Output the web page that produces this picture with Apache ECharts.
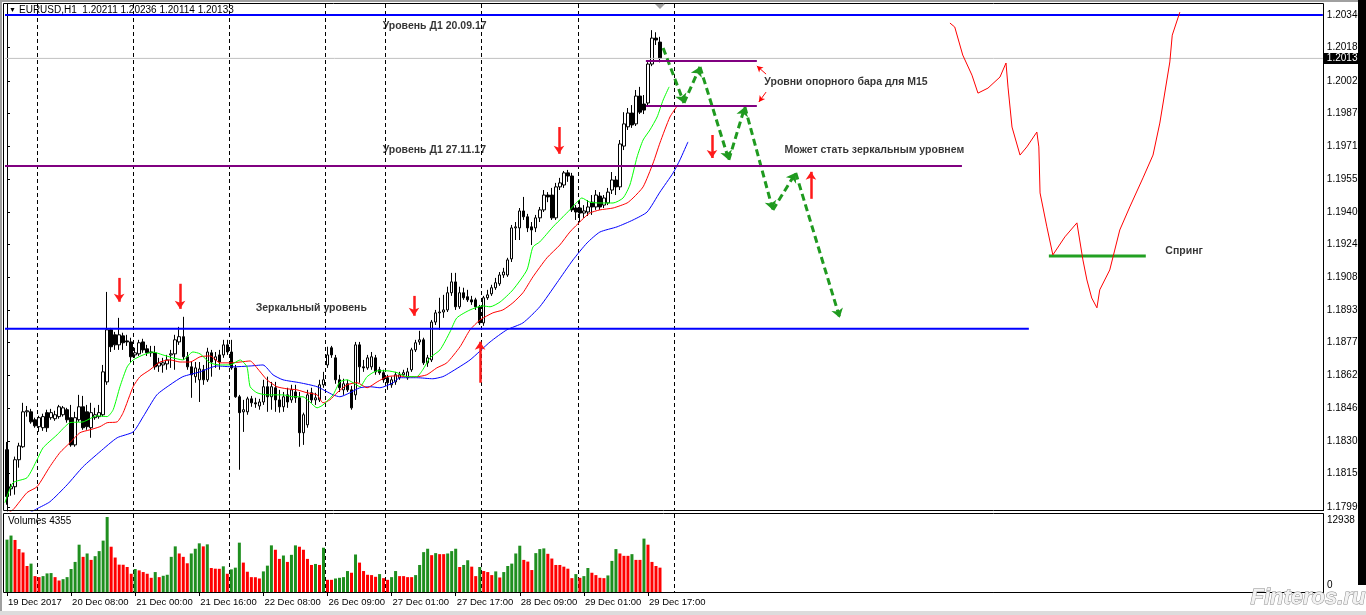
<!DOCTYPE html>
<html><head><meta charset="utf-8">
<script src="https://cdn.jsdelivr.net/npm/echarts@6/dist/echarts.min.js"></script>
<style>html,body{margin:0;padding:0;background:#fff;}#c{width:1366px;height:615px;}</style>
</head><body><div id="c"></div>
<script>
// ---------- DATA ----------
const barOpen = [1.18263,1.18076,1.18086,1.18215,1.18277,1.18444,1.18444,1.18406,1.18373,1.18368,1.18440,1.18416,1.18411,1.18421,1.18430,1.18454,1.18416,1.18286,1.18406,1.18468,1.18444,1.18368,1.18416,1.18421,1.18430,1.18587,1.18836,1.18812,1.18764,1.18807,1.18783,1.18778,1.18716,1.18721,1.18778,1.18745,1.18730,1.18726,1.18663,1.18668,1.18673,1.18716,1.18721,1.18778,1.18803,1.18707,1.18659,1.18612,1.18597,1.18645,1.18597,1.18726,1.18692,1.18716,1.18716,1.18764,1.18730,1.18654,1.18516,1.18444,1.18444,1.18506,1.18487,1.18472,1.18491,1.18564,1.18516,1.18559,1.18501,1.18468,1.18525,1.18501,1.18539,1.18511,1.18344,1.18382,1.18535,1.18501,1.18501,1.18573,1.18668,1.18750,1.18702,1.18597,1.18549,1.18578,1.18549,1.18525,1.18764,1.18659,1.18654,1.18659,1.18702,1.18645,1.18631,1.18607,1.18573,1.18587,1.18607,1.18621,1.18607,1.18645,1.18740,1.18778,1.18788,1.18678,1.18692,1.18873,1.18917,1.18921,1.18931,1.19013,1.19065,1.18946,1.19013,1.18994,1.18979,1.18979,1.18946,1.18869,1.18989,1.19008,1.19037,1.19056,1.19098,1.19098,1.19175,1.19323,1.19323,1.19404,1.19376,1.19328,1.19323,1.19371,1.19409,1.19480,1.19480,1.19371,1.19519,1.19528,1.19586,1.19571,1.19418,1.19418,1.19394,1.19399,1.19446,1.19423,1.19475,1.19432,1.19442,1.19504,1.19552,1.19519,1.19714,1.19806,1.19872,1.19820,1.19953,1.19915,1.19920,1.20106,1.20230,1.20211];
const barHigh = [1.18300,1.18100,1.18230,1.18296,1.18487,1.18472,1.18458,1.18416,1.18425,1.18435,1.18454,1.18458,1.18449,1.18477,1.18472,1.18463,1.18477,1.18444,1.18525,1.18520,1.18477,1.18487,1.18463,1.18477,1.18668,1.19017,1.18845,1.18826,1.18893,1.18822,1.18812,1.18798,1.18750,1.18788,1.18793,1.18764,1.18759,1.18759,1.18702,1.18702,1.18716,1.18740,1.18812,1.18850,1.18898,1.18730,1.18682,1.18682,1.18682,1.18668,1.18750,1.18740,1.18730,1.18740,1.18788,1.18788,1.18788,1.18668,1.18525,1.18501,1.18516,1.18520,1.18511,1.18506,1.18597,1.18612,1.18587,1.18587,1.18549,1.18539,1.18559,1.18573,1.18573,1.18539,1.18440,1.18549,1.18559,1.18535,1.18597,1.18635,1.18755,1.18759,1.18716,1.18621,1.18602,1.18597,1.18568,1.18778,1.18778,1.18692,1.18716,1.18730,1.18716,1.18659,1.18645,1.18621,1.18612,1.18635,1.18635,1.18645,1.18654,1.18750,1.18788,1.18831,1.18798,1.18716,1.18883,1.18931,1.18989,1.19003,1.19042,1.19108,1.19108,1.19042,1.19037,1.19027,1.18998,1.18989,1.18955,1.18998,1.19027,1.19051,1.19084,1.19112,1.19132,1.19180,1.19337,1.19351,1.19418,1.19471,1.19390,1.19351,1.19385,1.19423,1.19504,1.19494,1.19514,1.19538,1.19562,1.19595,1.19600,1.19586,1.19432,1.19456,1.19432,1.19456,1.19480,1.19504,1.19494,1.19480,1.19514,1.19590,1.19571,1.19743,1.19876,1.19896,1.19910,1.19982,1.19997,1.19958,1.20115,1.20268,1.20258,1.20236];
const barLow = [1.18000,1.18043,1.18048,1.18177,1.18272,1.18421,1.18387,1.18368,1.18348,1.18353,1.18348,1.18406,1.18401,1.18411,1.18421,1.18392,1.18277,1.18277,1.18396,1.18358,1.18358,1.18320,1.18406,1.18411,1.18421,1.18573,1.18730,1.18740,1.18740,1.18740,1.18759,1.18682,1.18702,1.18711,1.18726,1.18711,1.18707,1.18645,1.18635,1.18631,1.18645,1.18654,1.18645,1.18764,1.18692,1.18645,1.18511,1.18583,1.18491,1.18573,1.18587,1.18612,1.18654,1.18645,1.18702,1.18716,1.18645,1.18511,1.18167,1.18348,1.18430,1.18468,1.18463,1.18454,1.18477,1.18444,1.18454,1.18444,1.18440,1.18444,1.18463,1.18487,1.18487,1.18277,1.18286,1.18368,1.18487,1.18477,1.18491,1.18559,1.18654,1.18702,1.18578,1.18539,1.18525,1.18539,1.18454,1.18501,1.18583,1.18635,1.18645,1.18645,1.18621,1.18621,1.18583,1.18549,1.18559,1.18573,1.18597,1.18612,1.18597,1.18635,1.18730,1.18764,1.18668,1.18659,1.18682,1.18859,1.18836,1.18893,1.18921,1.18998,1.18931,1.18936,1.18979,1.18969,1.18955,1.18931,1.18859,1.18855,1.18979,1.18998,1.19027,1.19046,1.19084,1.19089,1.19160,1.19265,1.19265,1.19361,1.19303,1.19241,1.19303,1.19351,1.19399,1.19446,1.19361,1.19361,1.19504,1.19514,1.19543,1.19399,1.19361,1.19351,1.19371,1.19380,1.19385,1.19409,1.19409,1.19418,1.19432,1.19485,1.19480,1.19504,1.19695,1.19791,1.19801,1.19810,1.19867,1.19867,1.19905,1.20096,1.20197,1.20114];
const barClose = [1.18039,1.18086,1.18215,1.18281,1.18444,1.18449,1.18396,1.18377,1.18416,1.18421,1.18368,1.18440,1.18430,1.18468,1.18463,1.18406,1.18286,1.18416,1.18468,1.18368,1.18373,1.18440,1.18430,1.18440,1.18635,1.18836,1.18755,1.18764,1.18812,1.18774,1.18778,1.18707,1.18726,1.18774,1.18740,1.18726,1.18726,1.18659,1.18678,1.18678,1.18692,1.18721,1.18788,1.18803,1.18707,1.18659,1.18621,1.18654,1.18649,1.18597,1.18730,1.18682,1.18707,1.18682,1.18764,1.18730,1.18654,1.18516,1.18440,1.18454,1.18506,1.18487,1.18482,1.18491,1.18564,1.18516,1.18564,1.18501,1.18468,1.18516,1.18491,1.18549,1.18511,1.18344,1.18430,1.18525,1.18501,1.18511,1.18573,1.18597,1.18716,1.18716,1.18597,1.18559,1.18578,1.18549,1.18463,1.18764,1.18659,1.18654,1.18702,1.18707,1.18635,1.18631,1.18597,1.18583,1.18597,1.18621,1.18621,1.18631,1.18635,1.18740,1.18774,1.18788,1.18678,1.18702,1.18873,1.18917,1.18921,1.18931,1.19013,1.19065,1.18946,1.19013,1.18989,1.18979,1.18969,1.18946,1.18869,1.18989,1.19003,1.19037,1.19061,1.19098,1.19112,1.19170,1.19323,1.19328,1.19404,1.19376,1.19323,1.19313,1.19371,1.19409,1.19480,1.19471,1.19371,1.19519,1.19538,1.19586,1.19571,1.19409,1.19399,1.19394,1.19404,1.19423,1.19423,1.19480,1.19423,1.19466,1.19494,1.19552,1.19519,1.19724,1.19820,1.19872,1.19815,1.19953,1.19876,1.19886,1.20106,1.20230,1.20221,1.20133];
const volumes = [9037,9736,8978,7404,6821,4489,4897,2740,2565,2740,3207,3265,2565,1982,2215,2565,3964,5189,8162,6063,6646,5539,6180,7054,8862,12938,7812,5947,4722,4700,4314,3148,3964,3731,3440,3148,2449,3440,2565,2798,2973,6063,7871,6646,6063,4956,6646,7462,8395,7871,8220,4139,4023,4000,4431,3148,3906,4198,8512,5072,3498,2565,2550,2332,3556,4547,8045,7288,5713,6296,5189,6413,8045,7812,7288,5713,4664,4839,4664,7637,2099,2099,2332,2449,2565,3615,3323,6471,5072,3615,2973,2915,2624,3090,2390,2099,2565,3615,2740,2740,2565,2565,2915,4664,6879,7462,6355,6705,6530,6530,6646,7054,7462,4314,4664,5480,4373,2740,4314,3615,3440,2915,3556,2507,3440,4489,4897,6646,7987,5539,5247,3790,6705,7404,7521,6588,5772,4664,4664,4373,4023,2390,3090,2449,2740,4139,3323,2915,2449,2390,2857,5364,7404,6646,6238,6238,6530,5539,5539,9211,8162,5189,4489,4200];
// Alligator lines: [bar index, price]
const lipsLine = [[-0.5,1.18010],[1.5,1.18105],[5.0,1.18129],[7.5,1.18215],[9.0,1.18272],[12.5,1.18334],[15.7,1.18392],[19.0,1.18396],[22.5,1.18425],[25.0,1.18421],[26.5,1.18454],[28.2,1.18564],[30.0,1.18659],[31.5,1.18692],[34.0,1.18716],[36.4,1.18730],[38.9,1.18716],[41.4,1.18702],[43.9,1.18692],[46.4,1.18730],[48.2,1.18721],[50.7,1.18678],[53.2,1.18668],[55.7,1.18668],[58.2,1.18692],[59.9,1.18659],[60.7,1.18564],[62.4,1.18535],[64.9,1.18525],[68.9,1.18525],[71.4,1.18516],[73.9,1.18516],[75.6,1.18491],[77.4,1.18463],[78.9,1.18477],[81.4,1.18525],[83.1,1.18587],[84.9,1.18597],[86.4,1.18583],[88.1,1.18564],[89.9,1.18612],[92.4,1.18640],[94.9,1.18640],[97.4,1.18631],[99.8,1.18612],[102.3,1.18612],[103.8,1.18645],[105.6,1.18702],[108.1,1.18740],[110.6,1.18826],[112.3,1.18893],[115.6,1.18931],[118.8,1.18950],[120.6,1.18946],[123.1,1.18969],[126.3,1.19027],[129.8,1.19122],[131.3,1.19232],[133.0,1.19256],[136.3,1.19328],[138.8,1.19376],[140.5,1.19409],[142.3,1.19446],[143.5,1.19466],[145.5,1.19446],[148.0,1.19442],[151.3,1.19442],[153.8,1.19466],[155.5,1.19528],[157.3,1.19662],[158.8,1.19743],[160.5,1.19791],[162.3,1.19853],[163.8,1.19934],[165.3,1.19997]];
const teethLine = [[-0.5,1.17952],[1.5,1.17976],[5.0,1.18058],[7.5,1.18086],[10.7,1.18182],[13.2,1.18249],[15.7,1.18296],[18.2,1.18344],[20.7,1.18358],[23.2,1.18373],[25.0,1.18392],[27.5,1.18396],[29.0,1.18440],[31.5,1.18564],[33.2,1.18612],[35.7,1.18645],[38.2,1.18682],[40.7,1.18692],[43.2,1.18682],[45.7,1.18682],[48.2,1.18707],[50.7,1.18711],[53.2,1.18678],[55.7,1.18678],[58.2,1.18682],[60.7,1.18687],[62.4,1.18654],[64.9,1.18597],[67.4,1.18564],[69.9,1.18554],[72.4,1.18549],[74.9,1.18535],[77.4,1.18525],[78.9,1.18487],[80.6,1.18501],[82.4,1.18535],[84.9,1.18573],[87.4,1.18583],[89.9,1.18559],[92.4,1.18587],[94.9,1.18612],[97.4,1.18616],[99.8,1.18612],[102.3,1.18612],[104.8,1.18621],[107.3,1.18654],[109.8,1.18678],[113.1,1.18755],[115.6,1.18836],[118.1,1.18883],[121.3,1.18917],[123.8,1.18931],[126.3,1.18965],[128.8,1.19013],[131.3,1.19089],[134.8,1.19180],[138.0,1.19241],[140.5,1.19303],[143.5,1.19361],[145.5,1.19394],[148.0,1.19409],[151.3,1.19418],[154.8,1.19442],[156.3,1.19466],[158.8,1.19519],[161.3,1.19633],[163.0,1.19729],[165.5,1.19853],[167.3,1.19905]];
const jawLine = [[5.7,1.17962],[7.5,1.17981],[10.7,1.18014],[15.0,1.18095],[19.0,1.18182],[23.2,1.18253],[27.5,1.18320],[31.5,1.18348],[34.0,1.18421],[37.4,1.18525],[40.7,1.18573],[43.9,1.18612],[48.2,1.18635],[52.4,1.18663],[56.4,1.18659],[60.7,1.18663],[63.9,1.18668],[66.4,1.18621],[68.9,1.18597],[73.1,1.18583],[77.4,1.18564],[81.4,1.18525],[83.1,1.18516],[85.6,1.18535],[88.1,1.18559],[90.6,1.18564],[93.1,1.18559],[96.4,1.18583],[98.1,1.18607],[102.3,1.18607],[106.3,1.18602],[108.8,1.18612],[110.6,1.18631],[115.6,1.18692],[120.6,1.18778],[124.8,1.18836],[128.8,1.18869],[133.0,1.18946],[137.3,1.19061],[141.3,1.19170],[144.8,1.19251],[148.0,1.19303],[152.3,1.19328],[156.3,1.19361],[159.8,1.19399],[163.0,1.19494],[166.3,1.19586],[168.0,1.19648],[170.0,1.19734]];
// axis ticks
const priceTicks = [1.20340,1.20185,1.20025,1.19870,1.19715,1.19555,1.19400,1.19245,1.19085,1.18930,1.18775,1.18620,1.18460,1.18305,1.18150,1.17990];
const timeTickIdx = [0,16,32,48,64,80,96,112,128,144,160];
const timeTickText = ['19 Dec 2017','20 Dec 08:00','21 Dec 00:00','21 Dec 16:00','22 Dec 08:00','26 Dec 09:00','27 Dec 01:00','27 Dec 17:00','28 Dec 09:00','29 Dec 01:00','29 Dec 17:00'];
const daySepIdx = [8,32,56,80,95,119,143,167];
const lastPrice = 1.20133;
const volMaxLabel = 12938;
// drawn objects (bar index, price)
const levelD1Top = [[-0.5,1.20340],[328.5,1.20340]];
const levelD1Mid = [[-0.5,1.19619],[238.4,1.19619]];
const levelMirror = [[-0.5,1.18841],[255.1,1.18841]];
const levelRefHigh = [[159.5,1.20121],[187.2,1.20121]];
const levelRefLow = [[159.5,1.19906],[187.2,1.19906]];
const levelSpring = [[260.1,1.19189],[284.3,1.19189]];
const sketchLine = [[235.4,1.20302],[236.6,1.20283],[238.6,1.20149],[240.9,1.20053],[242.4,1.19967],[244.9,1.19991],[247.9,1.20044],[249.4,1.20111],[249.9,1.19996],[250.9,1.19805],[252.9,1.19671],[254.6,1.19710],[257.1,1.19781],[257.6,1.19710],[257.9,1.19490],[259.6,1.19328],[261.1,1.19194],[264.1,1.19280],[267.1,1.19347],[268.6,1.19170],[269.6,1.19074],[270.8,1.18988],[272.1,1.18941],[272.8,1.19027],[275.3,1.19122],[277.8,1.19313],[280.3,1.19423],[283.6,1.19562],[286.1,1.19671],[287.8,1.19824],[290.3,1.20116],[290.9,1.20244],[292.8,1.20354]];
const zigzag = [[163.8,1.20183],[169.0,1.19920],[173.0,1.20092],[180.2,1.19648],[184.2,1.19901],[191.2,1.19409],[196.9,1.19586],[207.9,1.18893]];
const bigArrows = [[28.0,1.19084,1.18970],[43.2,1.19056,1.18936],[101.6,1.18998,1.18903],[137.8,1.19805,1.19677],[176.0,1.19767,1.19657],[118.1,1.18583,1.18779],[200.7,1.19462,1.19591]];
const pointerArrows = [[[189.5,1.20058],[187.2,1.20097]],[[189.5,1.19972],[187.7,1.19925]]];
const noteText = ['Уровень Д1 20.09.17','Уровень Д1 27.11.17','Зеркальный уровень','Уровни опорного бара для M15','Может стать зеркальным уровнем','Спринг'];
const noteAt = [[93.9,1.20283],[93.9,1.19691],[62.2,1.18936],[189.2,1.20016],[194.2,1.19691],[289.3,1.19208]];
const headerText = 'EURUSD,H1  1.20211 1.20236 1.20114 1.20133';
const volumeTitle = 'Volumes 4355';

// ---------- CHART ----------
const FONT = '"Liberation Sans", Arial, sans-serif';
const N = 329;
const cats = []; for (let i = 0; i < N; i++) cats.push(String(i));
const daySet = new Set(daySepIdx);
const tickMap = {}; timeTickIdx.forEach((k, j) => tickMap[k] = timeTickText[j]);
const candles = barOpen.map((o, i) => [o, barClose[i], barLow[i], barHigh[i]]);
const volData = volumes.map((v, i) => ({value: v, itemStyle: {color: (i > 0 && v <= volumes[i - 1]) ? '#ff0000' : '#1f8f1f'}}));
const gridSplit = {show: true, interval: (i) => daySet.has(i), lineStyle: {color: '#000', width: 1, type: [4, 3]}};

function levelSeries(data, color, width) {
  return {type: 'line', xAxisIndex: 2, yAxisIndex: 0, data: data, symbol: 'none', silent: true, z: 5,
    lineStyle: {color: color, width: width}};
}
const arrowMarks = [];
bigArrows.forEach(a => arrowMarks.push([{coord: [a[0], a[1]], symbol: 'none', lineStyle: {color: '#ff1a1a', width: 2.5, type: 'solid'}}, {coord: [a[0], a[2]], symbol: 'arrow', symbolSize: [8, 8]}]));
pointerArrows.forEach(a => arrowMarks.push([{coord: a[0], symbol: 'none', lineStyle: {color: '#ff0000', width: 1, type: 'solid'}}, {coord: a[1], symbol: 'arrow', symbolSize: [5, 6]}]));
for (let k = 0; k < zigzag.length - 1; k++) {
  arrowMarks.push([{coord: zigzag[k], symbol: 'none', lineStyle: {color: '#1f9a1f', width: 3, type: [7, 4]}}, {coord: zigzag[k + 1], symbol: 'arrow', symbolSize: [9, 9]}]);
}
const titleStyle = {fontSize: 10, color: '#000', fontWeight: 'normal', fontFamily: FONT};

const option = {
  animation: false,
  textStyle: {fontFamily: FONT},
  title: [
    {text: '▼', left: 9, top: 7, padding: 0, textStyle: {fontSize: 7, color: '#000', fontWeight: 'normal', fontFamily: FONT}},
    {text: headerText, left: 19, top: 5, padding: 0, textStyle: titleStyle},
    {text: volumeTitle, left: 8, top: 516, padding: 0, textStyle: titleStyle}
  ],
  grid: [
    {left: 5, right: 43, top: 4, height: 507, show: false},
    {left: 5, right: 43, top: 514, height: 78, show: false}
  ],
  xAxis: [
    {gridIndex: 0, type: 'category', data: cats, boundaryGap: true, axisLine: {show: false}, axisTick: {show: false}, axisLabel: {show: false}, splitLine: gridSplit},
    {gridIndex: 1, type: 'category', data: cats, boundaryGap: true,
      axisLine: {show: true, lineStyle: {color: '#000'}},
      axisTick: {show: true, interval: (i) => tickMap[i] !== undefined, alignWithLabel: true, length: 4, lineStyle: {color: '#000'}},
      axisLabel: {show: true, interval: (i) => tickMap[i] !== undefined, formatter: (v, i) => tickMap[i] || '', align: 'left', fontSize: 9.5, color: '#000', margin: 5, fontFamily: FONT, padding: [0, 0, 0, 1]},
      splitLine: gridSplit},
    {gridIndex: 0, type: 'value', min: -0.5, max: 328.5, show: false}
  ],
  yAxis: [
    {gridIndex: 0, type: 'value', position: 'right', min: 1.17970, max: 1.20393, scale: true,
      axisLine: {show: true, lineStyle: {color: '#000'}},
      axisTick: {show: true, customValues: priceTicks, length: 3, lineStyle: {color: '#000'}},
      axisLabel: {customValues: priceTicks, formatter: (v) => v.toFixed(5), fontSize: 10, color: '#000', margin: 4, fontFamily: FONT},
      splitLine: {show: false}},
    {gridIndex: 1, type: 'value', position: 'right', min: 0, max: 13456,
      axisLine: {show: true, lineStyle: {color: '#000'}},
      axisTick: {show: false},
      axisLabel: {customValues: [0, volMaxLabel], formatter: (v) => v === 0 ? '{b|0}' : '{t|' + volMaxLabel + '}', margin: 4,
        rich: {b: {padding: [0, 0, 14, 0], fontSize: 10, color: '#000', fontFamily: FONT}, t: {padding: [6, 0, 0, 0], fontSize: 10, color: '#000', fontFamily: FONT}}},
      splitLine: {show: false}}
  ],
  series: [
    {type: 'candlestick', xAxisIndex: 0, yAxisIndex: 0, data: candles, barWidth: 3, z: 2,
      itemStyle: {color: '#ffffff', color0: '#000000', borderColor: '#000000', borderColor0: '#000000', borderWidth: 1}},
    {type: 'bar', xAxisIndex: 1, yAxisIndex: 1, data: volData, barWidth: 3},
    {type: 'line', xAxisIndex: 2, yAxisIndex: 0, data: jawLine, symbol: 'none', smooth: 0.2, lineStyle: {color: '#0000ff', width: 1}, z: 3},
    {type: 'line', xAxisIndex: 2, yAxisIndex: 0, data: teethLine, symbol: 'none', smooth: 0.2, lineStyle: {color: '#ff0000', width: 1}, z: 3},
    {type: 'line', xAxisIndex: 2, yAxisIndex: 0, data: lipsLine, symbol: 'none', smooth: 0.2, lineStyle: {color: '#00ff00', width: 1}, z: 3},
    {type: 'line', xAxisIndex: 2, yAxisIndex: 0, data: [[-0.5, lastPrice], [328.5, lastPrice]], symbol: 'none', silent: true, z: 4,
      lineStyle: {color: '#c0c0c0', width: 1},
      endLabel: {show: true, formatter: lastPrice.toFixed(5), backgroundColor: '#000', color: '#fff', padding: [1, 4, 0, 3], distance: 1, fontSize: 10, fontFamily: FONT}},
    levelSeries(levelD1Top, '#0000ff', 2),
    levelSeries(levelD1Mid, '#800080', 2),
    levelSeries(levelMirror, '#0000ff', 2),
    levelSeries(levelRefHigh, '#800080', 2),
    levelSeries(levelRefLow, '#800080', 2),
    levelSeries(levelSpring, '#22a022', 3),
    {type: 'line', xAxisIndex: 2, yAxisIndex: 0, data: sketchLine, symbol: 'none', lineStyle: {color: '#ff0000', width: 1}, z: 5, silent: true},
    {type: 'line', xAxisIndex: 2, yAxisIndex: 0, data: [], symbol: 'none', z: 6, silent: true,
      markLine: {silent: true, animation: false, label: {show: false}, symbol: ['none', 'arrow'], data: arrowMarks}},
    {type: 'scatter', xAxisIndex: 2, yAxisIndex: 0, symbolSize: 1, itemStyle: {color: 'rgba(0,0,0,0)'}, z: 7, silent: true,
      data: noteAt.map((p, j) => ({value: p, name: noteText[j]})),
      label: {show: true, position: [0, 0], align: 'left', verticalAlign: 'middle', formatter: '{b}', fontSize: 10.5, fontWeight: 'bold', color: '#000', fontFamily: FONT}}
  ],
  graphic: [
    {type: 'rect', silent: true, z: 100, shape: {x: 3.5, y: 3.5, width: 1320, height: 507}, style: {fill: null, stroke: '#000', lineWidth: 1}},
    {type: 'rect', silent: true, z: 100, shape: {x: 3.5, y: 513.5, width: 1320, height: 79}, style: {fill: null, stroke: '#000', lineWidth: 1}},
    {type: 'rect', silent: true, z: 100, shape: {x: 0, y: 0, width: 1366, height: 2}, style: {fill: '#a0a0a0'}},
    {type: 'rect', silent: true, z: 100, shape: {x: 0, y: 0, width: 2, height: 612}, style: {fill: '#a0a0a0'}},
    {type: 'rect', silent: true, z: 100, shape: {x: 1358, y: 0, width: 8, height: 585}, style: {fill: '#000'}},
    {type: 'rect', silent: true, z: 100, shape: {x: 0, y: 611, width: 1366, height: 4}, style: {fill: '#dcdcdc'}},
    {type: 'polygon', silent: true, z: 100, shape: {points: [[655, 4], [665, 4], [660, 9]]}, style: {fill: '#a0a0a0'}},
    {type: 'text', silent: true, z: 100, left: 1250, top: 586, style: {text: 'Finteros.ru', font: 'italic bold 22px "Liberation Sans", Arial, sans-serif', fill: '#f2f2f2', stroke: '#8c8c8c', lineWidth: 1}}
  ]
};
const chart = echarts.init(document.getElementById('c'), null, {renderer: 'canvas'});
chart.setOption(option);
</script></body></html>
